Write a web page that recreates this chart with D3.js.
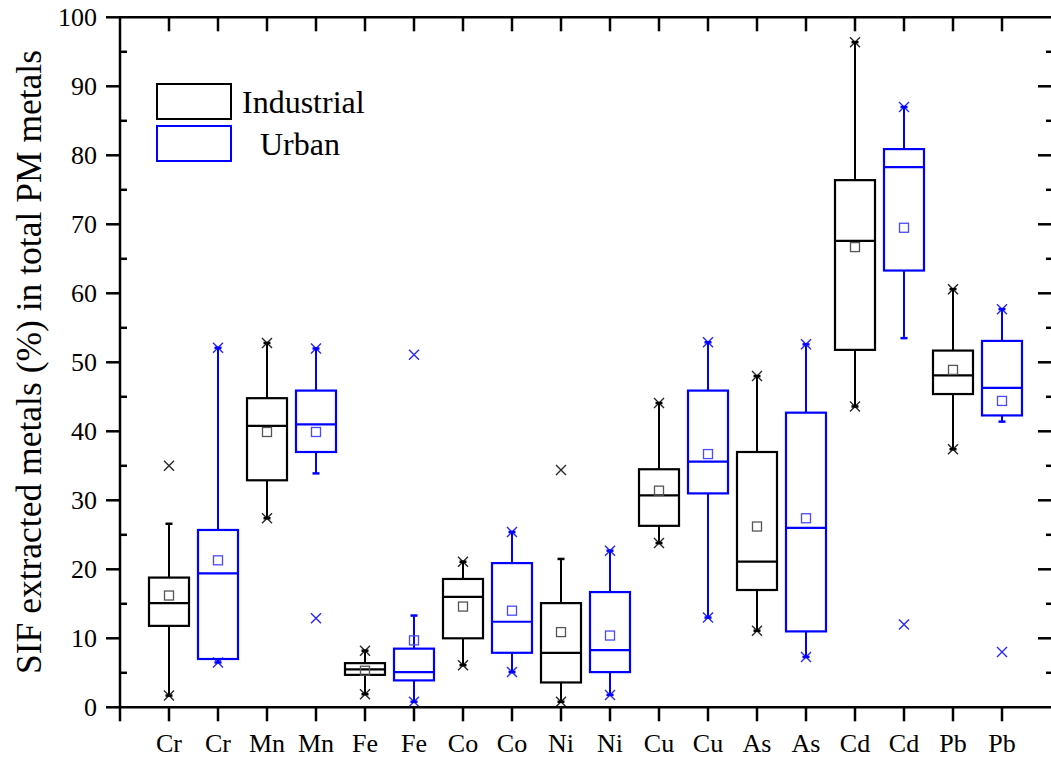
<!DOCTYPE html>
<html>
<head>
<meta charset="utf-8">
<script src="https://cdn.jsdelivr.net/npm/d3@7"></script>
<style>
  body { margin: 0; background: #fff; }
  text { font-family: "Liberation Serif", "Times New Roman", serif; fill: #000; }
</style>
</head>
<body>
<svg id="chart" width="1051" height="760"></svg>
<script>
// metals, each has an industrial and an urban box
const metals = ["Cr", "Mn", "Fe", "Co", "Ni", "Cu", "As", "Cd", "Pb"];
const yTicks = [0, 10, 20, 30, 40, 50, 60, 70, 80, 90, 100];

const industrialQ1     = [11.8, 32.9, 4.7, 10.0, 3.6, 26.3, 17.0, 51.8, 45.4];
const industrialMedian = [15.1, 40.8, 5.5, 16.0, 7.9, 30.7, 21.1, 67.6, 48.1];
const industrialQ3     = [18.8, 44.8, 6.4, 18.6, 15.1, 34.5, 37.0, 76.4, 51.7];
const industrialMean   = [16.2, 39.9, 5.3, 14.6, 10.9, 31.4, 26.2, 66.7, 48.9];
const industrialLow    = [1.7, 27.4, 1.9, 6.1, 0.8, 23.8, 11.1, 43.6, 37.4];
const industrialHigh   = [26.6, 52.8, 8.2, 21.1, 21.5, 44.1, 48.0, 96.4, 60.6];
const industrialCross  = [[1.7, 35.0], [27.4, 52.8], [1.9, 8.2], [6.1, 21.1], [0.8, 34.4],
                          [23.8, 44.1], [11.1, 48.0], [43.6, 96.4], [37.4, 60.6]];

const urbanQ1     = [7.0, 37.0, 3.9, 7.9, 5.1, 31.0, 11.0, 63.3, 42.3];
const urbanMedian = [19.4, 41.0, 5.1, 12.4, 8.3, 35.6, 26.0, 78.3, 46.3];
const urbanQ3     = [25.7, 45.9, 8.5, 20.9, 16.7, 45.9, 42.7, 80.9, 53.1];
const urbanMean   = [21.3, 39.9, 9.7, 14.0, 10.4, 36.7, 27.4, 69.5, 44.4];
const urbanLow    = [6.5, 33.9, 0.8, 5.1, 1.8, 13.0, 7.3, 53.5, 41.4];
const urbanHigh   = [52.1, 52.0, 13.3, 25.4, 22.7, 52.9, 52.6, 87.0, 57.7];
const urbanCross  = [[6.5, 52.1], [52.0, 12.9], [0.8, 51.1], [5.1, 25.4], [1.8, 22.7],
                     [13.0, 52.9], [7.3, 52.6], [87.0, 12.0], [57.7, 8.0]];

const sites = [
  { name: "Industrial", color: "#000000", meanColor: "#555555",
    q1: industrialQ1, med: industrialMedian, q3: industrialQ3, mean: industrialMean,
    lo: industrialLow, hi: industrialHigh, cross: industrialCross },
  { name: "Urban", color: "#0000ff", meanColor: "#4a4aff",
    q1: urbanQ1, med: urbanMedian, q3: urbanQ3, mean: urbanMean,
    lo: urbanLow, hi: urbanHigh, cross: urbanCross }
];

// flatten into boxes: position 1..18
let boxes = [];
metals.forEach((m, i) => {
  sites.forEach((s, j) => {
    boxes.push({
      label: m, pos: i * 2 + j + 1, site: s,
      q1: s.q1[i], med: s.med[i], q3: s.q3[i], mean: s.mean[i],
      lo: s.lo[i], hi: s.hi[i], cross: s.cross[i]
    });
  });
});

const plotLeft = 120, plotRight = 1051, plotTop = 17.3, plotBottom = 707.3;
const x = d3.scaleLinear().domain([0, 19]).range([plotLeft, plotRight]);
const y = d3.scaleLinear().domain([0, 100]).range([plotBottom, plotTop]);

const svg = d3.select("#chart");
const boxW = 40;

// boxes
let g = svg.selectAll("g.box")
  .data(boxes)
  .enter()
  .append("g")
  .attr("class", "box")
  .attr("stroke", d => d.site.color)
  .attr("fill", "none");

// whiskers
g.append("line")
  .attr("x1", d => x(d.pos)).attr("x2", d => x(d.pos))
  .attr("y1", d => y(d.q3)).attr("y2", d => y(d.hi))
  .attr("stroke-width", 2);
g.append("line")
  .attr("x1", d => x(d.pos)).attr("x2", d => x(d.pos))
  .attr("y1", d => y(d.q1)).attr("y2", d => y(d.lo))
  .attr("stroke-width", 2);
// whisker caps
[ "hi", "lo" ].forEach(k => {
  g.append("line")
    .attr("x1", d => x(d.pos) - 3.5).attr("x2", d => x(d.pos) + 3.5)
    .attr("y1", d => y(d[k])).attr("y2", d => y(d[k]))
    .attr("stroke-width", 2.5);
});

g.append("rect")
  .attr("x", d => x(d.pos) - boxW / 2)
  .attr("width", boxW)
  .attr("y", d => y(d.q3))
  .attr("height", d => y(d.q1) - y(d.q3))
  .attr("fill", "#fff")
  .attr("stroke-width", 2.2);

g.append("line")
  .attr("x1", d => x(d.pos) - boxW / 2).attr("x2", d => x(d.pos) + boxW / 2)
  .attr("y1", d => y(d.med)).attr("y2", d => y(d.med))
  .attr("stroke-width", 2.2);

// mean squares
g.append("rect")
  .attr("x", d => x(d.pos) - 4.5)
  .attr("y", d => y(d.mean) - 4.5)
  .attr("width", 9).attr("height", 9)
  .attr("stroke", d => d.site.meanColor)
  .attr("stroke-width", 1.3);

// cross markers
g.each(function(d) {
  d3.select(this).selectAll("path.cross")
    .data(d.cross)
    .enter()
    .append("path")
    .attr("class", "cross")
    .attr("d", v => {
      const cx = x(d.pos), cy = y(v), r = 5;
      return `M${cx - r},${cy - r}L${cx + r},${cy + r}M${cx - r},${cy + r}L${cx + r},${cy - r}`;
    })
    .attr("stroke-width", 1.4)
    .attr("opacity", 0.85);
});

// axes (right spine falls just outside the picture)
const axes = svg.append("g").attr("stroke", "#000").attr("stroke-width", 2.5);
axes.append("line").attr("x1", plotLeft).attr("x2", plotLeft).attr("y1", plotTop).attr("y2", plotBottom + 1);
axes.append("line").attr("x1", plotLeft - 1).attr("x2", plotRight).attr("y1", plotBottom).attr("y2", plotBottom);
axes.append("line").attr("x1", plotLeft - 1).attr("x2", plotRight).attr("y1", plotTop).attr("y2", plotTop);

const minorY = d3.range(5, 100, 10);
// left ticks: major outward, minor inward
axes.selectAll("line.ymaj").data(yTicks).enter().append("line")
  .attr("x1", plotLeft - 14).attr("x2", plotLeft)
  .attr("y1", d => y(d)).attr("y2", d => y(d));
axes.selectAll("line.ymin").data(minorY).enter().append("line")
  .attr("x1", plotLeft).attr("x2", plotLeft + 7)
  .attr("y1", d => y(d)).attr("y2", d => y(d));
// right ticks, inward
axes.selectAll("line.rmaj").data(yTicks.slice(1, -1)).enter().append("line")
  .attr("x1", plotRight - 13).attr("x2", plotRight)
  .attr("y1", d => y(d)).attr("y2", d => y(d));
axes.selectAll("line.rmin").data(minorY).enter().append("line")
  .attr("x1", plotRight - 5).attr("x2", plotRight)
  .attr("y1", d => y(d)).attr("y2", d => y(d));

const xTickPos = d3.range(0, 19);
axes.selectAll("line.xb").data(xTickPos).enter().append("line")
  .attr("x1", d => x(d)).attr("x2", d => x(d))
  .attr("y1", plotBottom).attr("y2", plotBottom + 14);
axes.selectAll("line.xt").data(xTickPos.slice(1)).enter().append("line")
  .attr("x1", d => x(d)).attr("x2", d => x(d))
  .attr("y1", plotTop).attr("y2", plotTop + 14);

// tick labels
svg.selectAll("text.ylab").data(yTicks).enter().append("text")
  .attr("x", 97).attr("y", d => y(d) + 9)
  .attr("text-anchor", "end")
  .style("font-size", "26px")
  .text(d => d);

svg.selectAll("text.xlab").data(boxes).enter().append("text")
  .attr("x", d => x(d.pos)).attr("y", 752)
  .attr("text-anchor", "middle")
  .style("font-size", "26px")
  .text(d => d.label);

// y axis title
svg.append("text")
  .attr("transform", "translate(41,362) rotate(-90)")
  .attr("text-anchor", "middle")
  .style("font-size", "35.5px")
  .text("SIF extracted metals (%) in total PM metals");

// legend
const legend = svg.append("g");
legend.selectAll("rect").data(sites).enter().append("rect")
  .attr("x", 157).attr("y", (d, i) => 84 + i * 42)
  .attr("width", 74).attr("height", 35)
  .attr("fill", "none")
  .attr("stroke", d => d.color)
  .attr("stroke-width", 2);
legend.selectAll("text").data(sites).enter().append("text")
  .attr("x", (d, i) => i === 0 ? 242 : 260)
  .attr("y", (d, i) => 113 + i * 42)
  .style("font-size", "32px")
  .text(d => d.name);
</script>
</body>
</html>
